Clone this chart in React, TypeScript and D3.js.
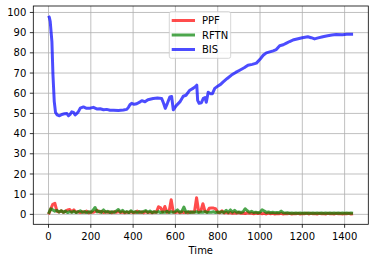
import React from "react";
import * as d3 from "d3";

// BIS read at irregular times
const bisTime = [0,4,8,16,21,27,33,40,52,63,75,87,94,102,110,118,126,134,142,150,165,180,197,212,228,244,260,275,291,307,330,354,370,378,385,393,405,417,433,441,456,470,495,515,535,544,552,562,574,582,590,605,621,637,650,668,685,697,701,705,712,723,732,740,746,755,765,775,786,800,815,826,845,865,885,904,925,943,963,983,1000,1015,1030,1046,1062,1077,1093,1110,1125,1140,1160,1180,1200,1226,1242,1258,1275,1297,1320,1340,1360,1390,1410,1440];
const bisValue = [98.3,97.5,95.5,85.5,69,56,50.5,49.3,48.8,49.5,49.8,50,48.8,49.5,50.8,50.5,49.2,50,51,52.6,53.2,52.5,52.6,53,52.2,52.3,51.8,52,51.6,51.6,51.5,51.7,52,53,54.3,55,54.5,54.8,55.7,56.3,55.8,56.8,57.4,57.6,57.4,55,52.5,55,58.2,58.4,51.8,54,55.7,58.5,59,61.5,62.5,63.5,64,56.5,55,55.3,57.4,57.8,55.5,60.5,59.8,59.8,62.4,63.5,64.5,65.6,67.3,69,70.3,71.4,72.6,73.9,74.3,74.9,76.8,78.8,80,80.5,81,81.6,83.5,84,84.8,85.6,86.5,87,87.5,88,87.5,86.9,87.4,88,88.5,88.8,89.1,89,89.2,89.2];

// PPF and RFTN sampled every 10 time units, 0..1440
const ppfValue = [
  0,2.5,5.0,5.5,1.5,1.2,1.8,1.0,1.5,2.2,
  2.4,1.2,2.2,1.0,1.4,0.9,1.3,1.0,1.6,0.8,
  1.2,1.0,1.4,2.0,1.1,1.5,0.9,1.3,1.0,1.2,
  0.8,1.3,1.0,1.5,0.9,1.2,0.8,1.1,0.9,1.3,
  0.8,1.0,1.6,0.9,1.2,0.8,1.4,0.9,1.1,0.8,
  1.2,1.0,3.8,3.2,1.2,3.9,1.0,1.3,7.2,1.1,
  0.9,1.3,0.8,1.2,0.9,1.1,0.8,1.3,1.0,1.2,
  8.2,1.3,1.6,5.3,1.5,1.2,3.0,3.2,3.1,2.8,
  1.0,0.8,1.8,0.7,1.0,0.6,0.9,0.5,0.8,0.6,
  0.9,0.5,0.7,0.4,0.8,0.5,0.6,0.3,0.7,0.4,
  0.6,0.3,0.5,0.2,0.6,0.3,0.5,0.2,0.4,0.3,
  0.5,0.2,0.4,0.3,0.5,0.2,0.4,0.3,0.5,0.2,
  0.4,0.3,0.6,0.2,0.5,0.3,0.4,0.2,0.5,0.3,
  0.4,0.2,0.5,0.3,0.4,0.2,0.5,0.3,0.4,0.2,
  0.4,0.3,0.5,0.2,0.3
];
const rftnValue = [
  0.3,2.8,2.2,1.6,2.0,1.2,1.8,1.0,1.6,0.9,
  1.4,1.0,1.5,0.9,1.3,1.8,1.0,1.4,0.9,1.3,
  1.0,2.0,3.4,1.2,1.6,1.0,2.2,1.1,1.5,0.9,
  1.3,1.0,1.6,2.4,1.2,2.0,1.0,1.4,0.9,1.8,
  1.0,1.3,0.9,1.4,1.0,1.5,1.9,1.0,1.7,0.9,
  1.3,1.0,1.4,0.9,1.2,1.0,1.5,0.9,1.3,1.0,
  1.4,2.2,1.1,1.3,3.6,1.0,1.4,0.9,1.2,1.0,
  1.3,0.9,1.2,1.0,1.4,0.9,1.1,1.0,1.3,0.9,
  1.2,1.0,1.3,0.9,2.0,1.0,2.2,1.1,2.0,1.0,
  1.2,0.9,1.3,2.8,1.8,1.0,1.5,0.9,1.1,0.8,
  1.0,2.3,1.7,0.9,1.2,0.8,1.0,0.8,0.9,0.8,
  1.6,0.8,0.7,0.8,0.6,0.7,0.6,0.7,0.6,0.7,
  0.6,0.7,0.6,0.7,0.6,0.7,0.6,0.7,0.6,0.7,
  0.6,0.7,0.6,0.7,0.6,0.7,0.6,0.7,0.6,0.7,
  0.6,0.7,0.6,0.7,0.6
];
const sampleStep = 10;

const xTicks = [0,200,400,600,800,1000,1200,1400];
const yTicks = [0,10,20,30,40,50,60,70,80,90,100];
const seriesNames = ["PPF","RFTN","BIS"];
const seriesColors = ["rgb(255,0,0)","rgb(0,128,0)","rgb(0,0,255)"];

export default function App() {
  const W = 375, H = 262;
  const left = 33.3, right = 368.3, top = 6, bottom = 224.3;
  const x = d3.scaleLinear().domain([-72, 1512]).range([left, right]);
  const y = d3.scaleLinear().domain([-4.92, 103.2]).range([bottom, top]);

  const line = d3.line<[number, number]>()
    .x(d => x(d[0]))
    .y(d => y(d[1]));

  const ppfPts: [number, number][] = ppfValue.map((v, i) => [i * sampleStep, v]);
  const rftnPts: [number, number][] = rftnValue.map((v, i) => [i * sampleStep, v]);
  const bisPts: [number, number][] = bisValue.map((v, i) => [bisTime[i], v]);
  const paths = [ppfPts, rftnPts, bisPts];

  const font = "DejaVu Sans, sans-serif";
  const legX = 169.3, legY = 11.7, legW = 61.4, legH = 46.6;
  const rowY = [20.5, 35, 49.5];

  return (
    <svg width={W} height={H} style={{ position: "absolute", left: 0, top: 0, background: "white" }}
      fontFamily={font} fontSize={10}>
      <rect x={0} y={0} width={W} height={H} fill="white" />
      {/* grid */}
      <g stroke="#b0b0b0" strokeWidth={0.8}>
        {xTicks.map(t => (
          <line key={"gx" + t} x1={x(t)} x2={x(t)} y1={top} y2={bottom} />
        ))}
        {yTicks.map(t => (
          <line key={"gy" + t} x1={left} x2={right} y1={y(t)} y2={y(t)} />
        ))}
      </g>
      {/* data */}
      <defs>
        <clipPath id="plotclip">
          <rect x={left} y={top} width={right - left} height={bottom - top} />
        </clipPath>
      </defs>
      <g clipPath="url(#plotclip)">
        {paths.map((p, i) => (
          <path key={seriesNames[i]} d={line(p) || ""} fill="none" stroke={seriesColors[i]}
            strokeOpacity={0.7} strokeWidth={3} strokeLinejoin="round" strokeLinecap="butt" />
        ))}
      </g>
      {/* spines */}
      <rect x={left} y={top} width={right - left} height={bottom - top} fill="none" stroke="black" strokeWidth={0.8} />
      {/* x ticks */}
      <g>
        {xTicks.map(t => (
          <g key={"xt" + t}>
            <line x1={x(t)} x2={x(t)} y1={bottom} y2={bottom + 3.5} stroke="black" strokeWidth={0.8} />
            <text x={x(t)} y={239.5} textAnchor="middle" fill="black">{t}</text>
          </g>
        ))}
      </g>
      {/* y ticks */}
      <g>
        {yTicks.map(t => (
          <g key={"yt" + t}>
            <line x1={left - 3.5} x2={left} y1={y(t)} y2={y(t)} stroke="black" strokeWidth={0.8} />
            <text x={left - 7} y={y(t)} dy="0.36em" textAnchor="end" fill="black">{t}</text>
          </g>
        ))}
      </g>
      <text x={(left + right) / 2} y={253.5} textAnchor="middle" fill="black">Time</text>
      {/* legend */}
      <rect x={legX} y={legY} width={legW} height={legH} rx={2} ry={2}
        fill="white" fillOpacity={0.8} stroke="#cccccc" strokeWidth={0.8} />
      {seriesNames.map((n, i) => (
        <g key={"leg" + n}>
          <line x1={171.7} x2={195} y1={rowY[i]} y2={rowY[i]} stroke={seriesColors[i]}
            strokeOpacity={0.7} strokeWidth={3} />
          <text x={202} y={rowY[i]} dy="0.36em" fill="black">{n}</text>
        </g>
      ))}
    </svg>
  );
}
